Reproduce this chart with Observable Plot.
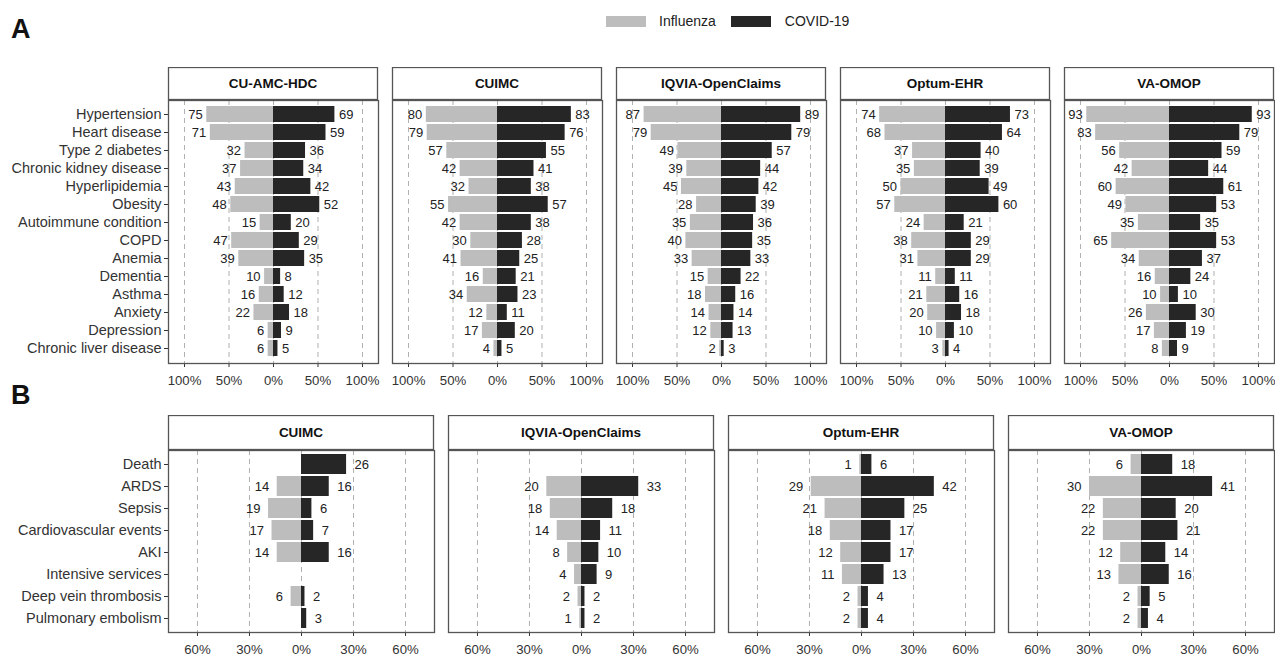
<!DOCTYPE html>
<html>
<head>
<meta charset="utf-8">
<script src="https://cdn.jsdelivr.net/npm/d3@7"></script>
<script src="https://cdn.jsdelivr.net/npm/@observablehq/plot@0.6"></script>
<style>
  html, body { margin: 0; padding: 0; background: #fff; }
  #root { position: relative; width: 1275px; height: 657px; overflow: hidden; font-family: "Liberation Sans", Arial, sans-serif; }
  .panel { position: absolute; }
  .panel g[aria-label="x-axis tick label"], .panel g[aria-label="x-axis"] text { font-size: 13.2px; }
  .tag { position: absolute; font-weight: bold; font-size: 27px; color: #111; }
  .legend { position: absolute; top: 13px; left: 606px; display: flex; align-items: center; font-size: 14px; color: #222; }
  .sw { display: inline-block; width: 40px; height: 11px; }
</style>
</head>
<body>
<div id="root">
  <div class="tag" style="left:11px;top:14px">A</div>
  <div class="tag" style="left:11px;top:380px">B</div>
  <div class="legend">
    <span class="sw" style="background:#bdbdbd"></span><span style="margin:0 15px 0 13px">Influenza</span>
    <span class="sw" style="background:#262626"></span><span style="margin-left:14px">COVID-19</span>
  </div>
</div>
<script>
// ---------- DATA ----------
const conditionsA = ["Hypertension","Heart disease","Type 2 diabetes","Chronic kidney disease","Hyperlipidemia","Obesity","Autoimmune condition","COPD","Anemia","Dementia","Asthma","Anxiety","Depression","Chronic liver disease"];
const sitesA = ["CU-AMC-HDC","CUIMC","IQVIA-OpenClaims","Optum-EHR","VA-OMOP"];
const fluA = [
  [75,71,32,37,43,48,15,47,39,10,16,22,6,6],
  [80,79,57,42,32,55,42,30,41,16,34,12,17,4],
  [87,79,49,39,45,28,35,40,33,15,18,14,12,2],
  [74,68,37,35,50,57,24,38,31,11,21,20,10,3],
  [93,83,56,42,60,49,35,65,34,16,10,26,17,8]
];
const covidA = [
  [69,59,36,34,42,52,20,29,35,8,12,18,9,5],
  [83,76,55,41,38,57,38,28,25,21,23,11,20,5],
  [89,79,57,44,42,39,36,35,33,22,16,14,13,3],
  [73,64,40,39,49,60,21,29,29,11,16,18,10,4],
  [93,79,59,44,61,53,35,53,37,24,10,30,19,9]
];
const ticksA = [-100,-50,0,50,100];

const outcomesB = ["Death","ARDS","Sepsis","Cardiovascular events","AKI","Intensive services","Deep vein thrombosis","Pulmonary embolism"];
const sitesB = ["CUIMC","IQVIA-OpenClaims","Optum-EHR","VA-OMOP"];
const fluB = [
  [null,14,19,17,14,null,6,null],
  [null,20,18,14,8,4,2,1],
  [1,29,21,18,12,11,2,2],
  [6,30,22,22,12,13,2,2]
];
const covidB = [
  [26,16,6,7,16,null,2,3],
  [null,33,18,11,10,9,2,2],
  [6,42,25,17,17,13,4,4],
  [18,41,20,21,14,16,5,4]
];
const ticksB = [-60,-30,0,30,60];

const FLU = "#bdbdbd", COVID = "#262626";

// ---------- helpers ----------
function strip(title) {
  return (index, scales, values, dims) => {
    const g = d3.create("svg:g");
    const x0 = dims.marginLeft, x1 = dims.width - dims.marginRight;
    g.append("rect")
      .attr("x", x0 + 0.5).attr("y", 0.5)
      .attr("width", x1 - x0 - 1).attr("height", dims.marginTop - 1)
      .attr("fill", "#fff").attr("stroke", "#555").attr("stroke-width", 1.3);
    g.append("text")
      .attr("x", (x0 + x1) / 2).attr("y", dims.marginTop / 2)
      .attr("dy", "0.35em").attr("text-anchor", "middle")
      .attr("font-weight", "bold").attr("font-size", 13.5).attr("fill", "#111")
      .text(title);
    return g.node();
  };
}

function panel({title, cats, flu, covid, ticks, dom, first, left, top, boxW, mTop, plotH, mBottom, gap, yPadOuter}) {
  const rows = cats.map((c, i) => ({cat: c, flu: flu[i], covid: covid[i]}));
  const fluRows = rows.filter(d => d.flu != null);
  const covRows = rows.filter(d => d.covid != null);
  const mL = first ? 168 : 16;
  const mR = 16;
  const chart = Plot.plot({
    width: mL + boxW + mR,
    height: mTop + plotH + mBottom,
    marginLeft: mL, marginRight: mR, marginTop: mTop, marginBottom: mBottom,
    style: {fontFamily: "Liberation Sans, Arial, sans-serif", fontSize: "14.5px", color: "#333", background: "transparent"},
    x: {domain: dom, ticks: ticks, tickFormat: d => Math.abs(d) + "%", tickSize: 4, tickPadding: 8, label: null},
    y: {domain: cats, axis: first ? "left" : null, tickSize: 4, tickPadding: 3, label: null, paddingInner: 0.1, paddingOuter: yPadOuter},
    marks: [
      Plot.ruleX(ticks, {stroke: "#b0b0b0", strokeDasharray: "5,4", strokeWidth: 1}),
      Plot.barX(fluRows, {x1: 0, x2: d => -d.flu, y: "cat", fill: FLU}),
      Plot.barX(covRows, {x1: 0, x2: d => d.covid, y: "cat", fill: COVID}),
      Plot.text(fluRows, {x: d => -d.flu, y: "cat", text: d => String(d.flu), textAnchor: "end", dx: -gap, fill: "#222", fontSize: 13}),
      Plot.text(covRows, {x: d => d.covid, y: "cat", text: d => String(d.covid), textAnchor: "start", dx: gap, fill: "#222", fontSize: 13}),
      Plot.frame({stroke: "#555", strokeWidth: 1.3}),
      strip(title)
    ]
  });
  chart.classList.add("panel");
  chart.style.left = (left - mL) + "px";
  chart.style.top = top + "px";
  document.getElementById("root").appendChild(chart);
}

const boxLeftA = [168, 392, 616, 840, 1064];
sitesA.forEach((s, i) => panel({
  title: s, cats: conditionsA, flu: fluA[i], covid: covidA[i], ticks: ticksA, dom: [-118, 118],
  first: i === 0, left: boxLeftA[i], top: 67, boxW: 210, mTop: 33, plotH: 263, mBottom: 30, gap: 4, yPadOuter: 0.15
}));

const boxLeftB = [168, 448, 728, 1008];
sitesB.forEach((s, i) => panel({
  title: s, cats: outcomesB, flu: fluB[i], covid: covidB[i], ticks: ticksB, dom: [-76.7, 76.7],
  first: i === 0, left: boxLeftB[i], top: 415, boxW: 266, mTop: 35, plotH: 182, mBottom: 25, gap: 8, yPadOuter: 0.15
}));
</script>
</body>
</html>
